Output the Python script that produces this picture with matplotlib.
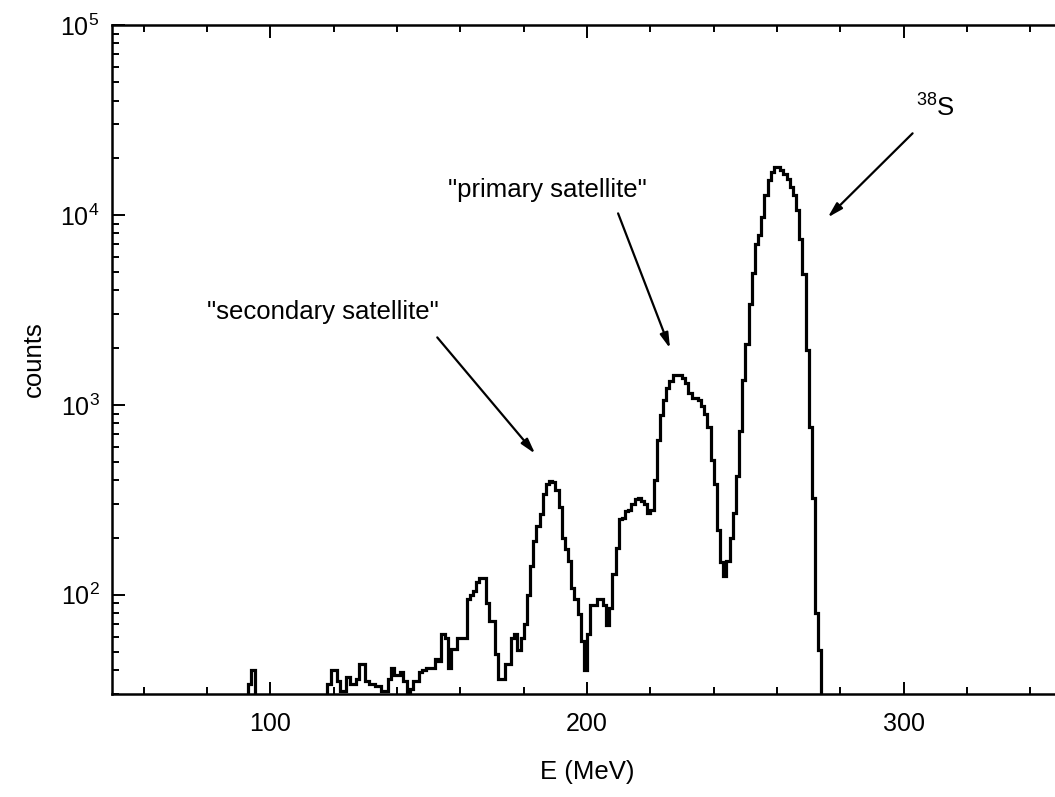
import matplotlib

matplotlib.use("Agg")
import matplotlib.pyplot as plt
import numpy as np
from matplotlib.ticker import MultipleLocator, LogLocator, NullFormatter

# energy spectrum, 1 MeV bins starting at 90 MeV (0 = empty bin)
bin_start = 90
bin_width = 1
counts = [
    0, 0, 0, 34, 40, 0, 0, 0, 0, 0,                                   # 90-99
    0, 0, 0, 0, 0, 0, 0, 0, 0, 0,                                     # 100-109
    0, 0, 0, 0, 0, 0, 0, 0, 34, 40,                                   # 110-119
    40, 35, 31, 31, 37, 34, 34, 36, 43, 43,                           # 120-129
    35, 34, 34, 33, 33, 31, 31, 36, 41, 38,                           # 130-139
    38, 39, 35, 30, 32, 35, 35, 39, 40, 41,                           # 140-149
    41, 41, 46, 45, 62, 59, 41, 52, 52, 59,                           # 150-159
    59, 59, 95, 100, 105, 116, 123, 123, 91, 73,                      # 160-169
    73, 49, 36, 36, 43, 43, 59, 62, 51, 59,                           # 170-179
    70, 100, 142, 193, 230, 265, 340, 385, 395, 390,                  # 180-189
    354, 290, 200, 175, 150, 108, 95, 79, 57, 40,                     # 190-199
    62, 88, 88, 95, 95, 88, 69, 85, 129, 177,                         # 200-209
    251, 255, 277, 280, 300, 320, 324, 310, 300, 270,                 # 210-219
    280, 400, 650, 880, 1060, 1230, 1330, 1430, 1440, 1430,           # 220-229
    1380, 1310, 1150, 1090, 1090, 1056, 990, 900, 760, 510,           # 230-239
    385, 220, 148, 125, 150, 200, 270, 420, 730, 1345,                # 240-249
    2100, 3400, 4930, 7000, 7800, 9800, 12800, 15350, 16900, 17900,   # 250-259
    17900, 17300, 16500, 15500, 14000, 12700, 10600, 7500, 4900, 1940,  # 260-269
    760, 324, 80, 51, 0,                                              # 270-274
]

# annotations: (text, text position, arrow tail, arrow head) in data coords
labels = ['"secondary satellite"', '"primary satellite"', r"$^{38}$S"]
text_xy = [(80, 3070), (156, 13500), (310, 36500)]
arrow_from = [(152.7, 2265), (209.8, 10190), (302.8, 26900)]
arrow_to = [(183.6, 553), (226.2, 1982), (276.0, 9700)]
text_ha = ["left", "left", "center"]

plt.rcParams["font.family"] = ["Liberation Sans", "DejaVu Sans"]
plt.rcParams["mathtext.fontset"] = "custom"
plt.rcParams["mathtext.rm"] = "Liberation Sans"
plt.rcParams["mathtext.it"] = "Liberation Sans:italic"
plt.rcParams["mathtext.bf"] = "Liberation Sans:bold"


def main():
    vals = np.array(counts, dtype=float)
    vals[vals <= 0] = 1.0  # below the axis floor
    edges = bin_start + bin_width * np.arange(len(vals) + 1)

    fig = plt.figure(figsize=(10.55, 7.97), dpi=100)
    ax = fig.add_axes([0.1062, 0.1292, 0.9005, 0.8394])

    ax.stairs(vals, edges, baseline=1.0, color="black", lw=2.3)

    ax.set_yscale("log")
    ax.set_xlim(50, 350)
    ax.set_ylim(30, 1e5)

    ax.xaxis.set_major_locator(MultipleLocator(100))
    ax.xaxis.set_minor_locator(MultipleLocator(20))
    ax.yaxis.set_major_locator(LogLocator(base=10))
    ax.yaxis.set_minor_locator(LogLocator(base=10, subs=np.arange(2, 10)))
    ax.yaxis.set_minor_formatter(NullFormatter())

    ax.tick_params(which="both", direction="in", top=True, right=False, width=1.4)
    ax.tick_params(which="major", length=9, labelsize=18)
    ax.tick_params(which="minor", length=5)
    ax.tick_params(axis="x", which="major", pad=13)
    ax.tick_params(axis="y", which="major", pad=9)

    for side in ("left", "bottom", "top"):
        ax.spines[side].set_linewidth(1.8)
    ax.spines["right"].set_visible(False)

    ax.set_xlabel("E (MeV)", fontsize=18.5, labelpad=17)
    ax.set_ylabel("counts", fontsize=18.5, labelpad=10)

    for txt, xy, ha in zip(labels, text_xy, text_ha):
        ax.text(xy[0], xy[1], txt, fontsize=18.5, ha=ha, va="center")
    for start, end in zip(arrow_from, arrow_to):
        ax.annotate(
            "",
            xy=end,
            xytext=start,
            arrowprops=dict(
                arrowstyle="-|>,head_length=0.9,head_width=0.25",
                color="black",
                lw=1.6,
                shrinkA=0,
                shrinkB=0,
            ),
        )

    fig.savefig("out.png", dpi=100)
    plt.close(fig)


if __name__ == "__main__":
    main()
